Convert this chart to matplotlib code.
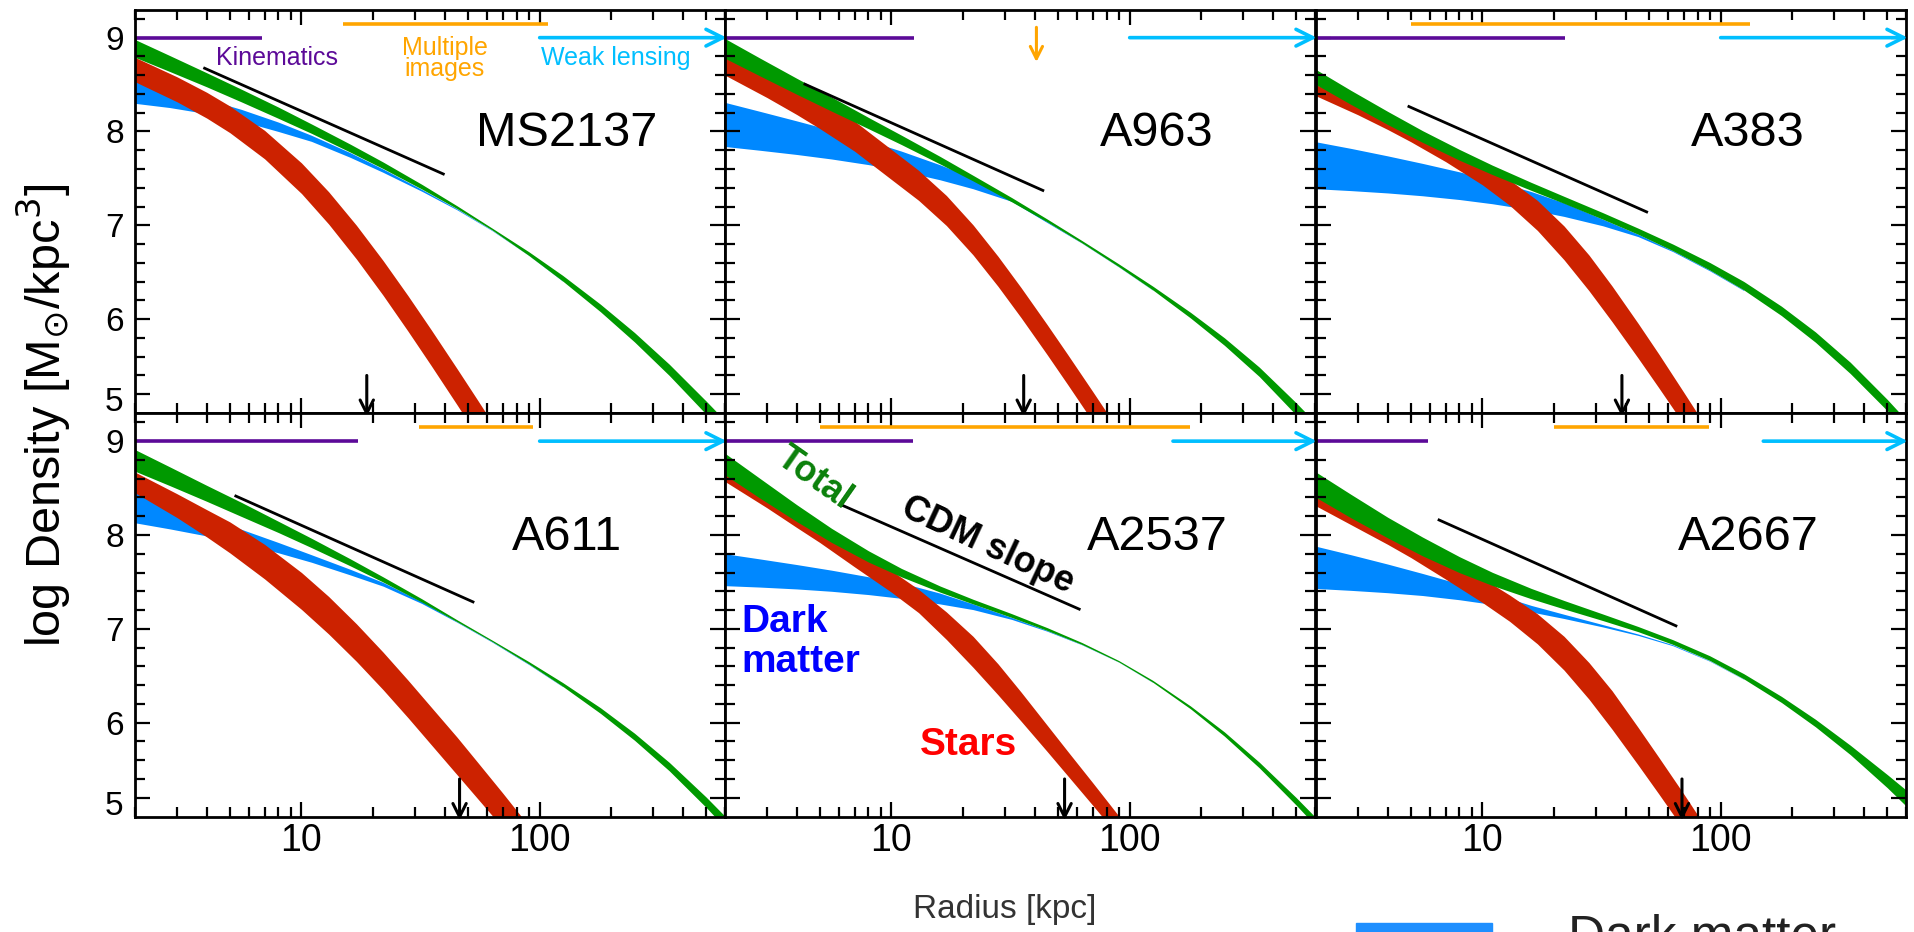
import numpy as np
import matplotlib.pyplot as plt
from matplotlib.patches import Rectangle
from matplotlib.ticker import LogLocator, NullFormatter
from matplotlib.transforms import blended_transform_factory, ScaledTranslation

plt.rcParams['font.family'] = ['Liberation Sans', 'DejaVu Sans']
plt.rcParams['mathtext.fontset'] = 'dejavusans'

# cluster names, panel order: top row then bottom row
names = ['MS2137', 'A963', 'A383', 'A611', 'A2537', 'A2667']

radius = [2, 2.8, 4, 5.6, 8, 11, 16, 22, 32, 45, 63, 90, 125, 180, 250, 350, 500, 600]
r_dm = [2, 2.8, 4, 5.6, 8, 11, 16, 22, 32, 45, 63, 90, 125]
r_stars = [2, 3, 4, 5, 7, 10, 13, 17, 22, 28, 35, 45, 55, 70, 90]

# log density of the total mass (green band)
total_hi = [
    [8.980, 8.809, 8.626, 8.450, 8.260, 8.081, 7.866, 7.675, 7.437, 7.208, 6.972, 6.719, 6.466, 6.159, 5.858, 5.520, 5.127, 4.919],
    [8.990, 8.783, 8.567, 8.367, 8.150, 7.961, 7.734, 7.533, 7.295, 7.068, 6.838, 6.589, 6.352, 6.073, 5.801, 5.489, 5.109, 4.902],
    [8.660, 8.439, 8.214, 8.009, 7.809, 7.641, 7.458, 7.309, 7.135, 6.970, 6.800, 6.604, 6.402, 6.138, 5.864, 5.541, 5.146, 4.928],
    [8.910, 8.726, 8.529, 8.347, 8.146, 7.966, 7.747, 7.554, 7.320, 7.096, 6.881, 6.651, 6.427, 6.159, 5.888, 5.577, 5.207, 5.003],
    [8.870, 8.604, 8.323, 8.071, 7.832, 7.644, 7.456, 7.315, 7.161, 7.013, 6.854, 6.662, 6.451, 6.178, 5.901, 5.579, 5.202, 4.997],
    [8.670, 8.434, 8.189, 7.978, 7.769, 7.602, 7.431, 7.302, 7.158, 7.025, 6.884, 6.713, 6.522, 6.280, 6.036, 5.760, 5.448, 5.283],
]
total_lo = [
    [8.790, 8.639, 8.476, 8.315, 8.140, 7.981, 7.781, 7.605, 7.387, 7.178, 6.952, 6.679, 6.406, 6.079, 5.758, 5.400, 4.987, 4.759],
    [8.780, 8.593, 8.397, 8.217, 8.030, 7.861, 7.654, 7.473, 7.250, 7.038, 6.813, 6.559, 6.312, 6.013, 5.721, 5.389, 4.979, 4.752],
    [8.500, 8.289, 8.074, 7.884, 7.694, 7.541, 7.373, 7.234, 7.065, 6.905, 6.730, 6.524, 6.312, 6.038, 5.754, 5.421, 5.026, 4.808],
    [8.680, 8.526, 8.359, 8.197, 8.026, 7.866, 7.672, 7.499, 7.285, 7.076, 6.866, 6.626, 6.387, 6.099, 5.813, 5.487, 5.097, 4.883],
    [8.640, 8.394, 8.143, 7.921, 7.712, 7.554, 7.391, 7.265, 7.121, 6.983, 6.834, 6.647, 6.431, 6.148, 5.856, 5.519, 5.122, 4.907],
    [8.400, 8.184, 7.969, 7.778, 7.599, 7.462, 7.321, 7.212, 7.088, 6.970, 6.834, 6.663, 6.467, 6.215, 5.956, 5.660, 5.308, 5.113],
]

# dark matter (blue band)
dm_hi = [
    [8.530, 8.445, 8.345, 8.235, 8.100, 7.960, 7.775, 7.600, 7.383, 7.175, 6.950, 6.682, 6.410],
    [8.310, 8.215, 8.113, 8.014, 7.902, 7.791, 7.645, 7.507, 7.270, 7.040, 6.813, 6.559, 6.312],
    [7.890, 7.820, 7.740, 7.660, 7.570, 7.480, 7.360, 7.240, 7.065, 6.905, 6.730, 6.524, 6.312],
    [8.450, 8.325, 8.190, 8.060, 7.920, 7.790, 7.635, 7.495, 7.290, 7.076, 6.866, 6.626, 6.387],
    [7.800, 7.745, 7.685, 7.625, 7.555, 7.490, 7.380, 7.265, 7.120, 6.983, 6.834, 6.647, 6.430],
    [7.880, 7.790, 7.690, 7.590, 7.480, 7.380, 7.250, 7.155, 7.045, 6.945, 6.830, 6.660, 6.465],
]
dm_lo = [
    [8.300, 8.255, 8.190, 8.110, 8.000, 7.895, 7.725, 7.565, 7.363, 7.165, 6.945, 6.680, 6.405],
    [7.840, 7.800, 7.755, 7.707, 7.647, 7.580, 7.485, 7.390, 7.255, 7.030, 6.810, 6.556, 6.309],
    [7.390, 7.370, 7.345, 7.315, 7.275, 7.230, 7.165, 7.095, 6.995, 6.880, 6.720, 6.515, 6.305],
    [8.130, 8.065, 7.990, 7.910, 7.810, 7.710, 7.575, 7.455, 7.270, 7.070, 6.860, 6.620, 6.383],
    [7.460, 7.445, 7.425, 7.400, 7.365, 7.325, 7.265, 7.205, 7.100, 6.975, 6.830, 6.645, 6.428],
    [7.430, 7.410, 7.385, 7.355, 7.310, 7.260, 7.180, 7.110, 7.020, 6.930, 6.820, 6.655, 6.462],
]

# stars (red band)
stars_hi = [
    [8.790, 8.583, 8.418, 8.272, 8.012, 7.665, 7.358, 7.001, 6.625, 6.250, 5.889, 5.472, 5.134, 4.723, 4.292],
    [8.920, 8.682, 8.501, 8.351, 8.110, 7.808, 7.586, 7.318, 7.005, 6.670, 6.336, 5.943, 5.621, 5.228, 4.813],
    [8.500, 8.308, 8.171, 8.056, 7.869, 7.661, 7.484, 7.266, 6.993, 6.683, 6.353, 5.956, 5.628, 5.220, 4.791],
    [8.670, 8.440, 8.270, 8.140, 7.900, 7.600, 7.345, 7.054, 6.752, 6.453, 6.167, 5.845, 5.575, 5.249, 4.900],
    [8.750, 8.500, 8.300, 8.130, 7.880, 7.620, 7.420, 7.180, 6.920, 6.627, 6.326, 5.974, 5.693, 5.359, 5.006],
    [8.500, 8.280, 8.120, 8.000, 7.780, 7.540, 7.360, 7.160, 6.920, 6.640, 6.340, 5.950, 5.630, 5.240, 4.820],
]
stars_lo = [
    [8.530, 8.317, 8.143, 7.988, 7.709, 7.339, 7.014, 6.642, 6.255, 5.872, 5.507, 5.087, 4.746, 4.334, 3.902],
    [8.600, 8.362, 8.181, 8.031, 7.790, 7.488, 7.266, 6.998, 6.685, 6.350, 6.016, 5.623, 5.301, 4.908, 4.493],
    [8.380, 8.178, 8.021, 7.891, 7.679, 7.431, 7.214, 6.946, 6.633, 6.303, 5.973, 5.586, 5.268, 4.880, 4.471],
    [8.450, 8.186, 7.980, 7.810, 7.532, 7.207, 6.945, 6.654, 6.352, 6.053, 5.767, 5.445, 5.188, 4.879, 4.552],
    [8.570, 8.290, 8.080, 7.920, 7.660, 7.390, 7.172, 6.887, 6.590, 6.297, 6.016, 5.694, 5.433, 5.119, 4.786],
    [8.310, 8.070, 7.900, 7.760, 7.530, 7.280, 7.080, 6.840, 6.560, 6.250, 5.930, 5.550, 5.240, 4.860, 4.460],
]

# CDM reference slope segments
cdm_r0 = [3.92, 4.33, 4.91, 5.30, 6.22, 6.57]
cdm_v0 = [8.674, 8.504, 8.266, 8.415, 8.316, 8.16]
cdm_r1 = [39.4, 43.2, 48.9, 52.5, 61.4, 64.9]
cdm_v1 = [7.547, 7.372, 7.143, 7.287, 7.21, 7.032]

# radial ranges of the data sets
kin_end = [6.8, 12.4, 22.2, 17.3, 12.3, 5.9]
mult_lo = [15, 40.6, 5, 31, 5, 20]
mult_hi = [108, 40.6, 133, 94, 179, 89.5]
weak_start = [100, 100, 100, 100, 152, 151]

# black arrows on the bottom axis
arrow_r = [18.8, 35.9, 38.5, 46.1, 53.3, 68.8]

c_dm = '#0088ff'
c_stars = '#cc2200'
c_total = '#009900'
c_kin = '#5c0a98'
c_mult = '#ffa500'
c_weak = '#00bfff'

W, H = 1915, 932
fig = plt.figure(figsize=(W / 100, H / 100), dpi=100)
col_x = [135, 725, 1316]
row_top = [9.5, 413]
pw, ph = 590, 403.5

for i in range(6):
    row, col = divmod(i, 3)
    ax = fig.add_axes([col_x[col] / W, (H - row_top[row] - ph) / H, pw / W, ph / H])
    ax.set_xscale('log')
    ax.set_xlim(2, 600)
    ax.set_ylim(5.0, 9.3)

    ax.fill_between(r_dm, dm_lo[i], dm_hi[i], color=c_dm, lw=0)
    ax.fill_between(r_stars, stars_lo[i], stars_hi[i], color=c_stars, lw=0)
    ax.fill_between(radius, total_lo[i], total_hi[i], color=c_total, lw=0)

    ax.plot([cdm_r0[i], cdm_r1[i]], [cdm_v0[i], cdm_v1[i]], color='k', lw=2)

    ax.plot([2, kin_end[i]], [9.0, 9.0], color=c_kin, lw=2.6, solid_capstyle='butt')
    if mult_lo[i] < mult_hi[i]:
        ax.plot([mult_lo[i], mult_hi[i]], [9.15, 9.15], color=c_mult, lw=2.6,
                solid_capstyle='butt')
    else:
        ax.annotate('', xy=(mult_lo[i], 8.74), xytext=(mult_lo[i], 9.11),
                    arrowprops=dict(arrowstyle='->', color=c_mult, lw=2.2,
                                    mutation_scale=22, shrinkA=0, shrinkB=0))
    ax.annotate('', xy=(610, 9.0), xytext=(weak_start[i], 9.0),
                arrowprops=dict(arrowstyle='->', color=c_weak, lw=2.6,
                                mutation_scale=30, shrinkA=0, shrinkB=0),
                annotation_clip=False)

    ax.annotate('', xy=(arrow_r[i], 4.96), xytext=(arrow_r[i], 5.40),
                arrowprops=dict(arrowstyle='->', color='k', lw=2.2,
                                mutation_scale=24, shrinkA=0, shrinkB=0),
                annotation_clip=False)

    ax.text(0.732, 0.692, names[i], transform=ax.transAxes, ha='center',
            va='center', fontsize=35)

    ax.set_yticks([5.2, 6, 7, 8, 9])
    ax.set_yticks(np.arange(5.2, 9.3, 0.2), minor=True)
    ax.set_xticks([10, 100])
    ax.xaxis.set_minor_locator(LogLocator(base=10, subs=np.arange(2, 10)))
    ax.xaxis.set_minor_formatter(NullFormatter())
    ax.tick_params(which='both', direction='in', top=True, right=True,
                   width=1.6, color='k')
    ax.tick_params(which='major', length=11)
    ax.tick_params(which='minor', length=7)
    ax.tick_params(axis='y', labelsize=24, pad=8)
    ax.tick_params(axis='x', labelsize=27, pad=5)
    if col == 0:
        ax.set_yticklabels(['', '6', '7', '8', '9'])
        # the "5" label sits a little below its tick in the original
        tr = blended_transform_factory(ax.transAxes, ax.transData)
        ax.text(0, 5.11, '5', transform=tr + ScaledTranslation(-0.12, 0, fig.dpi_scale_trans),
                ha='right', va='center', fontsize=24)
    else:
        ax.set_yticklabels([])
    if row == 1:
        ax.set_xticklabels(['10', '100'])
    else:
        ax.set_xticklabels([])
    for s in ax.spines.values():
        s.set_linewidth(2)

    if i == 0:
        ax.text(0.241, 0.8625, 'Kinematics', transform=ax.transAxes,
                ha='center', va='baseline', fontsize=18, color=c_kin)
        ax.text(0.525, 0.887, 'Multiple', transform=ax.transAxes,
                ha='center', va='baseline', fontsize=18, color=c_mult)
        ax.text(0.525, 0.835, 'images', transform=ax.transAxes,
                ha='center', va='baseline', fontsize=18, color=c_mult)
        ax.text(0.814, 0.8625, 'Weak lensing', transform=ax.transAxes,
                ha='center', va='baseline', fontsize=18, color=c_weak)
    if i == 4:
        ax.text(0.151, 0.839, 'Total', transform=ax.transAxes, ha='center',
                va='center', fontsize=26, fontweight='bold', color='#0a800a',
                rotation=-35)
        ax.text(0.446, 0.671, 'CDM slope', transform=ax.transAxes, ha='center',
                va='center', fontsize=26, fontweight='bold', color='k',
                rotation=-25)
        ax.text(0.027, 0.433, 'Dark\nmatter', transform=ax.transAxes, ha='left',
                va='center', fontsize=28, fontweight='bold', color='#0000ff',
                linespacing=1.15)
        ax.text(0.412, 0.176, 'Stars', transform=ax.transAxes, ha='center',
                va='center', fontsize=28, fontweight='bold', color='#ff0000')

fig.text(44 / W, (H - 415) / H, r'log Density [M$_{\odot}$/kpc$^{3}$]',
         rotation=90, ha='center', va='center', fontsize=35)
fig.text(1005 / W, 0.015, 'Radius [kpc]', ha='center', va='baseline',
         fontsize=24, color='#333333')

# legend entry, cut off by the lower edge of the figure
fig.patches.append(Rectangle((1356 / W, -0.02), 136 / W, 0.02 + 9 / H,
                             transform=fig.transFigure, color='#1e8fff'))
fig.text(1568 / W, -20 / H, 'Dark matter', ha='left', va='baseline',
         fontsize=37, color='#222222')

fig.savefig('out.png', dpi=100)
